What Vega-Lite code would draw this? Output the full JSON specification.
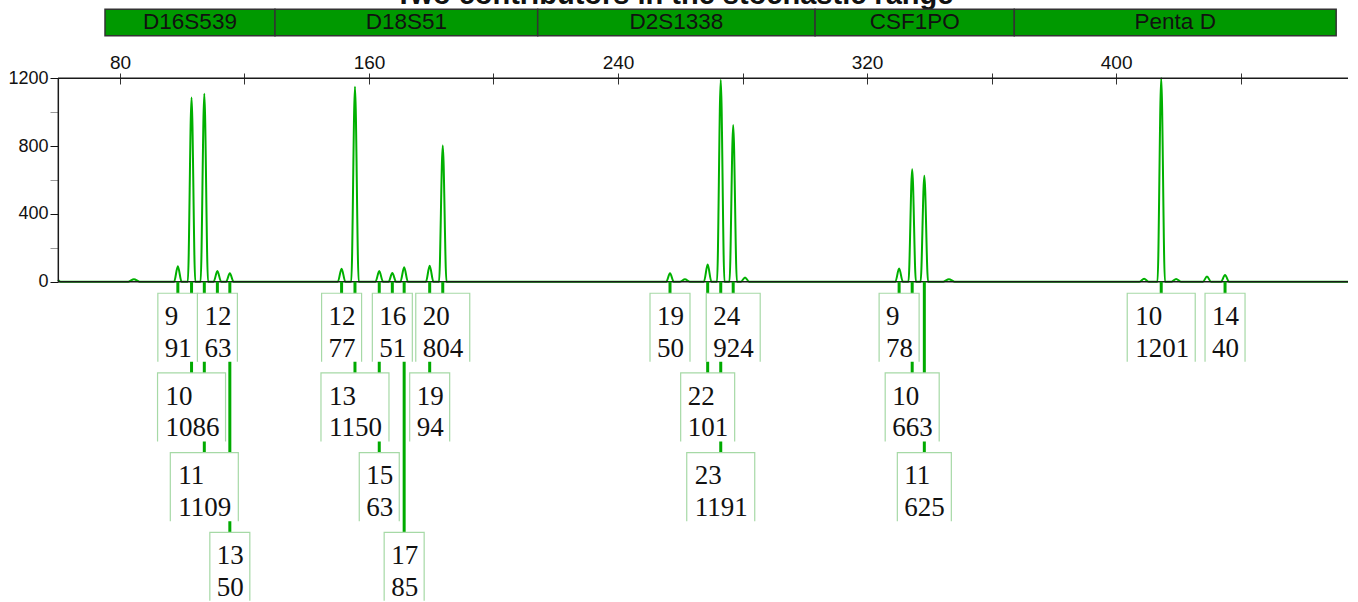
{
  "$schema": "https://vega.github.io/schema/vega-lite/v6.json",
  "width": 1290,
  "height": 602,
  "autosize": {"type": "none"},
  "padding": {"left": 58, "top": 0, "right": 10, "bottom": 0},
  "background": "white",
  "config": {"view": {"stroke": null}},
  "datasets": {
    "trace": [
      {"bp": 60.1, "rfu": 10}, {"bp": 60.9, "rfu": 0},
      {"bp": 82.7, "rfu": 0}, {"bp": 84.5, "rfu": 15}, {"bp": 86.3, "rfu": 0},
      {"bp": 97.4, "rfu": 0}, {"bp": 98.6, "rfu": 91}, {"bp": 99.8, "rfu": 0},
      {"bp": 101.8, "rfu": 0}, {"bp": 103.0, "rfu": 1086}, {"bp": 104.2, "rfu": 0},
      {"bp": 105.9, "rfu": 0}, {"bp": 107.1, "rfu": 1109}, {"bp": 108.3, "rfu": 0},
      {"bp": 110.1, "rfu": 0}, {"bp": 111.3, "rfu": 63}, {"bp": 112.5, "rfu": 0},
      {"bp": 114.1, "rfu": 0}, {"bp": 115.3, "rfu": 50}, {"bp": 116.5, "rfu": 0},
      {"bp": 150.0, "rfu": 0}, {"bp": 151.2, "rfu": 77}, {"bp": 152.4, "rfu": 0},
      {"bp": 154.3, "rfu": 0}, {"bp": 155.5, "rfu": 1150}, {"bp": 156.7, "rfu": 0},
      {"bp": 162.1, "rfu": 0}, {"bp": 163.3, "rfu": 63}, {"bp": 164.5, "rfu": 0},
      {"bp": 166.3, "rfu": 0}, {"bp": 167.5, "rfu": 51}, {"bp": 168.7, "rfu": 0},
      {"bp": 170.1, "rfu": 0}, {"bp": 171.3, "rfu": 85}, {"bp": 172.5, "rfu": 0},
      {"bp": 178.3, "rfu": 0}, {"bp": 179.5, "rfu": 94}, {"bp": 180.7, "rfu": 0},
      {"bp": 182.5, "rfu": 0}, {"bp": 183.7, "rfu": 804}, {"bp": 184.9, "rfu": 0},
      {"bp": 255.5, "rfu": 0}, {"bp": 256.7, "rfu": 50}, {"bp": 257.9, "rfu": 0},
      {"bp": 259.9, "rfu": 0}, {"bp": 261.5, "rfu": 15}, {"bp": 263.1, "rfu": 0},
      {"bp": 267.6, "rfu": 0}, {"bp": 268.8, "rfu": 101}, {"bp": 270.0, "rfu": 0},
      {"bp": 271.8, "rfu": 0}, {"bp": 273.0, "rfu": 1191}, {"bp": 274.2, "rfu": 0},
      {"bp": 275.8, "rfu": 0}, {"bp": 277.0, "rfu": 924}, {"bp": 278.2, "rfu": 0},
      {"bp": 279.5, "rfu": 0}, {"bp": 280.8, "rfu": 25}, {"bp": 282.1, "rfu": 0},
      {"bp": 329.1, "rfu": 0}, {"bp": 330.3, "rfu": 78}, {"bp": 331.5, "rfu": 0},
      {"bp": 333.3, "rfu": 0}, {"bp": 334.5, "rfu": 663}, {"bp": 335.7, "rfu": 0},
      {"bp": 337.2, "rfu": 0}, {"bp": 338.4, "rfu": 625}, {"bp": 339.6, "rfu": 0},
      {"bp": 344.5, "rfu": 0}, {"bp": 346.3, "rfu": 15}, {"bp": 348.1, "rfu": 0},
      {"bp": 407.5, "rfu": 0}, {"bp": 409.0, "rfu": 18}, {"bp": 410.5, "rfu": 0},
      {"bp": 413.3, "rfu": 0}, {"bp": 414.5, "rfu": 1201}, {"bp": 415.7, "rfu": 0},
      {"bp": 417.8, "rfu": 0}, {"bp": 419.3, "rfu": 16}, {"bp": 420.8, "rfu": 0},
      {"bp": 427.9, "rfu": 0}, {"bp": 429.2, "rfu": 30}, {"bp": 430.5, "rfu": 0},
      {"bp": 433.7, "rfu": 0}, {"bp": 435.0, "rfu": 40}, {"bp": 436.3, "rfu": 0},
      {"bp": 474.5, "rfu": 0}
    ],
    "loci": [
      {"locus": "D16S539", "start": 75.2, "end": 129.8},
      {"locus": "D18S51", "start": 129.8, "end": 214.2},
      {"locus": "D2S1338", "start": 214.2, "end": 303.3},
      {"locus": "CSF1PO", "start": 303.3, "end": 367.3},
      {"locus": "Penta D", "start": 367.3, "end": 470.7}
    ],
    "alleles": [
      {"locus": "D16S539", "allele": "9", "bp": 98.6, "rfu": 91, "row": 1},
      {"locus": "D16S539", "allele": "10", "bp": 103.0, "rfu": 1086, "row": 2},
      {"locus": "D16S539", "allele": "11", "bp": 107.1, "rfu": 1109, "row": 3},
      {"locus": "D16S539", "allele": "12", "bp": 111.3, "rfu": 63, "row": 1},
      {"locus": "D16S539", "allele": "13", "bp": 115.3, "rfu": 50, "row": 4},
      {"locus": "D18S51", "allele": "12", "bp": 151.2, "rfu": 77, "row": 1},
      {"locus": "D18S51", "allele": "13", "bp": 155.5, "rfu": 1150, "row": 2},
      {"locus": "D18S51", "allele": "15", "bp": 163.3, "rfu": 63, "row": 3},
      {"locus": "D18S51", "allele": "16", "bp": 167.5, "rfu": 51, "row": 1},
      {"locus": "D18S51", "allele": "17", "bp": 171.3, "rfu": 85, "row": 4},
      {"locus": "D18S51", "allele": "19", "bp": 179.5, "rfu": 94, "row": 2},
      {"locus": "D18S51", "allele": "20", "bp": 183.7, "rfu": 804, "row": 1},
      {"locus": "D2S1338", "allele": "19", "bp": 256.7, "rfu": 50, "row": 1},
      {"locus": "D2S1338", "allele": "22", "bp": 268.8, "rfu": 101, "row": 2},
      {"locus": "D2S1338", "allele": "23", "bp": 273.0, "rfu": 1191, "row": 3},
      {"locus": "D2S1338", "allele": "24", "bp": 277.0, "rfu": 924, "row": 1},
      {"locus": "CSF1PO", "allele": "9", "bp": 330.3, "rfu": 78, "row": 1},
      {"locus": "CSF1PO", "allele": "10", "bp": 334.5, "rfu": 663, "row": 2},
      {"locus": "CSF1PO", "allele": "11", "bp": 338.4, "rfu": 625, "row": 3},
      {"locus": "Penta D", "allele": "10", "bp": 414.5, "rfu": 1201, "row": 1},
      {"locus": "Penta D", "allele": "14", "bp": 435.0, "rfu": 40, "row": 1}
    ]
  },
  "layer": [
    {
      "layer": [
        {
          "data": {"name": "trace"},
          "mark": {"type": "line", "color": "#00b000", "strokeWidth": 2, "interpolate": "monotone"},
          "encoding": {
            "x": {"field": "bp", "type": "quantitative", "scale": {"domain": [60.1, 474.5], "nice": false, "zero": false},
              "axis": {"orient": "top", "offset": -84, "values": [80, 120, 160, 200, 240, 280, 320, 360, 400, 440], "format": "d", "labelExpr": "datum.value % 80 === 0 ? datum.label : ''", "domain": false, "grid": false, "tickSize": 11, "tickColor": "#333333", "labelFont": "Liberation Sans", "labelFontSize": 19, "labelColor": "#111", "labelBaseline": "alphabetic", "labelPadding": 5, "title": null}},
            "y": {"field": "rfu", "type": "quantitative", "scale": {"domain": [-1889.7, 1661.9], "nice": false, "zero": false},
              "axis": {"orient": "left", "values": [0, 200, 400, 600, 800, 1000, 1200], "format": "d", "labelExpr": "datum.value % 400 === 0 ? datum.label : ''", "domain": false, "grid": false, "tickSize": 8, "tickColor": {"condition": {"test": "datum.value % 400 !== 0", "value": "#999999"}, "value": "#111111"}, "labelFont": "Liberation Sans", "labelFontSize": 18, "labelColor": "#111", "labelPadding": 2, "title": null}}
          }
        },
        {
          "data": {"values": [{"t": "Two contributors in the stochastic range"}]},
          "mark": {"type": "text", "font": "Liberation Sans", "fontWeight": "bold", "fontSize": 29, "align": "center", "baseline": "alphabetic", "color": "#111"},
          "encoding": {
            "x": {"datum": 258.0, "type": "quantitative"},
            "y": {"datum": 1640, "type": "quantitative"},
            "text": {"field": "t"}
          }
        },
        {
          "data": {"name": "loci"},
          "mark": {"type": "rect", "fill": "#009900", "stroke": "#333333", "strokeWidth": 1.5},
          "encoding": {
            "x": {"field": "start", "type": "quantitative"},
            "x2": {"field": "end"},
            "y": {"datum": 1607.1, "type": "quantitative"},
            "y2": {"datum": 1451.3}
          }
        },
        {
          "data": {"name": "loci"},
          "transform": [{"fold": ["start", "end"], "as": ["edge", "pos"]}],
          "mark": {"type": "text", "font": "Liberation Sans", "fontSize": 22.5, "align": "center", "baseline": "middle", "color": "#111"},
          "encoding": {
            "x": {"aggregate": "mean", "field": "pos", "type": "quantitative"},
            "y": {"datum": 1529.2, "type": "quantitative"},
            "text": {"field": "locus"}
          }
        },
        {
          "data": {"values": [{}]},
          "mark": {"type": "rule", "color": "#1a1a1a", "strokeWidth": 1.5},
          "encoding": {
            "x": {"datum": 60.1, "type": "quantitative"},
            "x2": {"datum": 474.5},
            "y": {"datum": 0, "type": "quantitative"}
          }
        },
        {
          "data": {"values": [{}]},
          "mark": {"type": "rule", "color": "#1a1a1a", "strokeWidth": 1.5},
          "encoding": {
            "x": {"datum": 60.1, "type": "quantitative"},
            "x2": {"datum": 474.5},
            "y": {"datum": 1200, "type": "quantitative"}
          }
        },
        {
          "data": {"values": [{}]},
          "mark": {"type": "rule", "color": "#1a1a1a", "strokeWidth": 1.5},
          "encoding": {
            "x": {"datum": 60.2, "type": "quantitative"},
            "y": {"datum": 0, "type": "quantitative"},
            "y2": {"datum": 1200}
          }
        }
      ]
    },
    {
      "data": {"name": "alleles"},
      "layer": [
        {
          "mark": {"type": "rule", "color": "#00aa00", "strokeWidth": 3},
          "encoding": {
            "x": {"field": "bp", "type": "quantitative"},
            "y": {"field": "row", "type": "quantitative", "scale": {"domain": [-3.1092, 4.4441], "reverse": true, "nice": false, "zero": false}, "axis": null},
            "y2": {"datum": 0.4253}
          }
        },
        {
          "transform": [{"filter": "length(toString(datum.rfu)) == 2"}],
          "layer": [
            {"mark": {"type": "rect", "width": 40, "height": 68.5, "fill": "white", "stroke": "#a6d9a6", "strokeWidth": 1.2, "strokeDash": [108.5, 40, 68.5]}},
            {"mark": {"type": "text", "align": "left", "baseline": "alphabetic", "dx": -13, "dy": -2.5, "font": "Liberation Serif", "fontSize": 27, "color": "#111"}, "encoding": {"text": {"field": "allele"}}},
            {"mark": {"type": "text", "align": "left", "baseline": "alphabetic", "dx": -13, "dy": 29.2, "font": "Liberation Serif", "fontSize": 27, "color": "#111"}, "encoding": {"text": {"field": "rfu", "type": "nominal"}}}
          ],
          "encoding": {
            "x": {"field": "bp", "type": "quantitative"},
            "y": {"field": "row", "type": "quantitative", "axis": null}
          }
        },
        {
          "transform": [{"filter": "length(toString(datum.rfu)) == 3"}],
          "layer": [
            {"mark": {"type": "rect", "width": 54, "height": 68.5, "fill": "white", "stroke": "#a6d9a6", "strokeWidth": 1.2, "strokeDash": [122.5, 54, 68.5]}},
            {"mark": {"type": "text", "align": "left", "baseline": "alphabetic", "dx": -20, "dy": -2.5, "font": "Liberation Serif", "fontSize": 27, "color": "#111"}, "encoding": {"text": {"field": "allele"}}},
            {"mark": {"type": "text", "align": "left", "baseline": "alphabetic", "dx": -20, "dy": 29.2, "font": "Liberation Serif", "fontSize": 27, "color": "#111"}, "encoding": {"text": {"field": "rfu", "type": "nominal"}}}
          ],
          "encoding": {
            "x": {"field": "bp", "type": "quantitative"},
            "y": {"field": "row", "type": "quantitative", "axis": null}
          }
        },
        {
          "transform": [{"filter": "length(toString(datum.rfu)) == 4"}],
          "layer": [
            {"mark": {"type": "rect", "width": 68, "height": 68.5, "fill": "white", "stroke": "#a6d9a6", "strokeWidth": 1.2, "strokeDash": [136.5, 68, 68.5]}},
            {"mark": {"type": "text", "align": "left", "baseline": "alphabetic", "dx": -26, "dy": -2.5, "font": "Liberation Serif", "fontSize": 27, "color": "#111"}, "encoding": {"text": {"field": "allele"}}},
            {"mark": {"type": "text", "align": "left", "baseline": "alphabetic", "dx": -26, "dy": 29.2, "font": "Liberation Serif", "fontSize": 27, "color": "#111"}, "encoding": {"text": {"field": "rfu", "type": "nominal"}}}
          ],
          "encoding": {
            "x": {"field": "bp", "type": "quantitative"},
            "y": {"field": "row", "type": "quantitative", "axis": null}
          }
        }
      ]
    }
  ],
  "resolve": {"scale": {"y": "independent"}, "axis": {"y": "independent"}}
}
